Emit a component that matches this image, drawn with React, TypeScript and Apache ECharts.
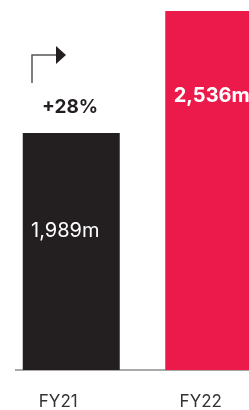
import React, { useEffect, useRef } from "react";
import * as echarts from "echarts";

const categories = ["FY21", "FY22"];
const values = [1989, 2536];
const valueLabels = ["1,989m", "2,536m"];
const growthLabel = "+28%";
const barColors = ["#231f20", "#ec1a4b"];

export default function App() {
  const ref = useRef<HTMLDivElement>(null);
  useEffect(() => {
    if (!ref.current) return;
    const chart = echarts.init(ref.current, null, { renderer: "svg" });
    const font = "Inter";
    chart.setOption({
      animation: false,
      grid: { left: -5, width: 290, top: 11, bottom: 40 },
      xAxis: {
        type: "category",
        data: categories,
        axisLine: { show: false },
        axisTick: { show: false },
        axisLabel: {
          color: "#333333",
          fontFamily: font,
          fontSize: 17,
          margin: 22,
          padding: [0, 26, 0, 0],
        },
      },
      yAxis: {
        type: "value",
        min: 926,
        max: 2536,
        show: false,
        splitLine: { show: false },
      },
      series: [
        {
          type: "bar",
          barWidth: 97,
          data: values.map((v, i) => ({
            value: v,
            itemStyle: { color: barColors[i] },
            label: {
              show: true,
              position: "insideTop",
              distance: i === 0 ? 87 : 74,
              offset: i === 0 ? [-6, 0] : [-2, 0],
              formatter: valueLabels[i],
              color: "#ffffff",
              fontFamily: font,
              fontSize: 20,
              fontWeight: i === 0 ? "normal" : "bold",
            },
          })),
        },
      ],
      graphic: [
        {
          type: "line",
          shape: { x1: 15, y1: 370, x2: 300, y2: 370 },
          style: { stroke: "#555555", lineWidth: 1 },
        },
        {
          type: "polyline",
          shape: { points: [[32, 83], [32, 55], [57, 55]] },
          style: { stroke: "#555555", lineWidth: 1.5, fill: null },
        },
        {
          type: "polygon",
          shape: { points: [[56, 46], [66, 55], [56, 64]] },
          style: { fill: "#231f20" },
        },
        {
          type: "text",
          x: 70,
          y: 106,
          style: {
            text: growthLabel,
            fill: "#231f20",
            font: `bold 19px ${font}`,
            textAlign: "center",
            textVerticalAlign: "middle",
          },
        },
      ],
    });
    return () => chart.dispose();
  }, []);
  return (
    <div
      ref={ref}
      style={{ position: "fixed", left: 0, top: 0, width: 300, height: 410 }}
    />
  );
}
